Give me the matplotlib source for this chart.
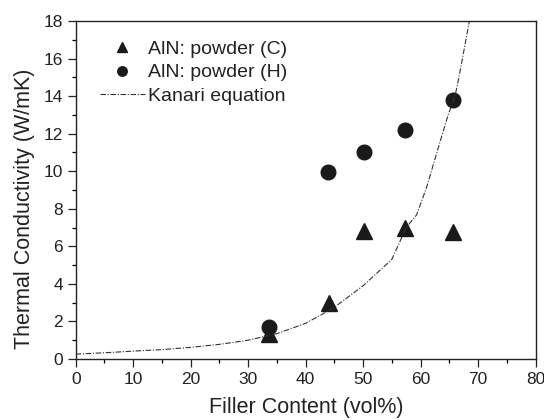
import matplotlib
matplotlib.use('Agg')
import matplotlib.pyplot as plt
from matplotlib.ticker import MultipleLocator

plt.rcParams['font.family'] = ['Liberation Sans', 'DejaVu Sans']

# Données
fill_c = [33.6, 44.0, 50.2, 57.3, 65.6]
tc_c = [1.33, 2.96, 6.83, 6.96, 6.75]
fill_h = [33.6, 43.9, 50.2, 57.3, 65.6]
tc_h = [1.72, 9.94, 11.0, 12.19, 13.79]

# Courbe de Kanari (lue point par point)
kanari_x = [0, 5, 10, 15, 20, 25, 30, 35, 40, 43, 45, 50, 52.5, 55, 56.4,
            57.5, 59.3, 61.0, 63.4, 64.8, 66.0, 66.8, 68.5]
kanari_y = [0.26, 0.33, 0.42, 0.5, 0.62, 0.78, 1.0, 1.35, 1.9, 2.4, 2.75, 3.9,
            4.6, 5.3, 6.25, 7.0, 7.67, 9.09, 11.57, 13.0, 14.0, 15.2, 18.0]

fig = plt.figure(figsize=(5.44, 4.2), dpi=100)
ax = fig.add_axes([75.7 / 544, 1 - 359 / 420, (535.5 - 75.7) / 544, (359 - 21) / 420])

ax.plot(fill_c, tc_c, '^', color='#1a1a1a', ms=12, ls='none', label='AlN: powder (C)')
ax.plot(fill_h, tc_h, 'o', color='#1a1a1a', ms=10.5, ls='none', label='AlN: powder (H)')
ax.plot(kanari_x, kanari_y, color='#333333', lw=0.8, dashes=(5, 1.5, 1, 1.5),
        label='Kanari equation')

ax.set_xlim(0, 80)
ax.set_ylim(0, 18)
ax.xaxis.set_major_locator(MultipleLocator(10))
ax.xaxis.set_minor_locator(MultipleLocator(5))
ax.yaxis.set_major_locator(MultipleLocator(2))
ax.yaxis.set_minor_locator(MultipleLocator(1))
ax.tick_params(which='major', direction='out', length=6, width=0.9, labelsize=12.5,
               colors='#222222', pad=3)
ax.tick_params(which='minor', direction='out', length=3, width=0.9)
for s in ax.spines.values():
    s.set_linewidth(1.0)
    s.set_color('#222222')

ax.set_xlabel('Filler Content (vol%)', fontsize=15.5, color='#222222')
ax.set_ylabel('Thermal Conductivity (W/mK)', fontsize=15.5, color='#222222')
ax.xaxis.set_label_coords(0.501, -0.113)
ax.yaxis.set_label_coords(-0.088, 0.444)

leg = ax.legend(loc='upper left', frameon=False, fontsize=14, markerscale=0.65,
                handlelength=2.3, handletextpad=0.15, labelspacing=0.3,
                borderpad=0, borderaxespad=0,
                bbox_to_anchor=(0.053, 0.943), numpoints=1)
for t in leg.get_texts():
    t.set_color('#222222')

fig.savefig('out.png', dpi=100)
